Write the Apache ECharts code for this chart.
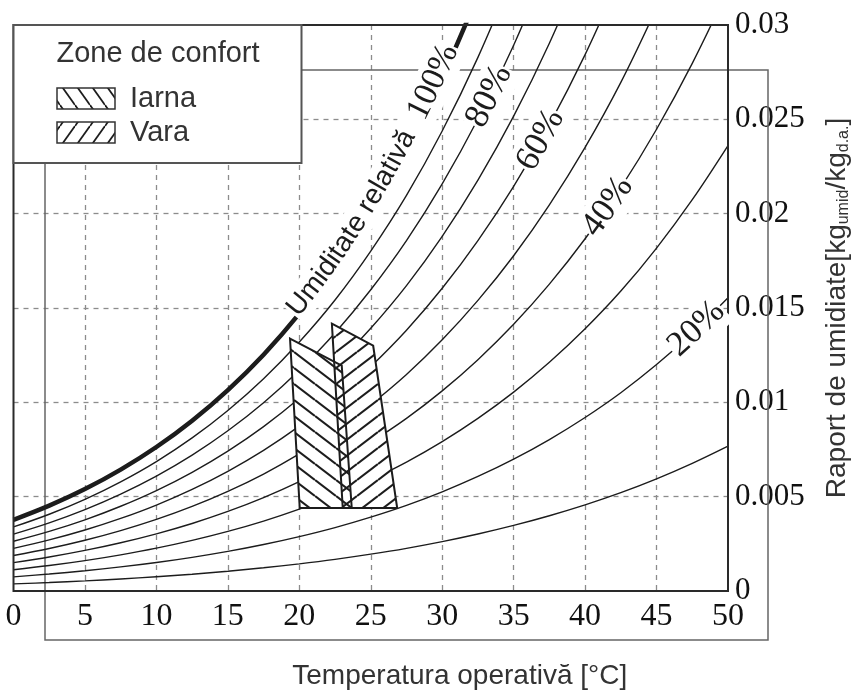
<!DOCTYPE html>
<html>
<head>
<meta charset="utf-8">
<script src="https://cdn.jsdelivr.net/npm/echarts@6/dist/echarts.min.js"></script>
<style>
html,body{margin:0;padding:0;background:#fff;}
#chart{width:860px;height:695px;}
</style>
</head>
<body>
<div id="chart"></div>
<script>
// ---------------- DATA ----------------
const temps = [0, 2.5, 5, 7.5, 10, 12.5, 15, 17.5, 20, 22.5, 25, 27.5, 30, 32.5, 35, 37.5, 40, 42.5, 45, 47.5, 50];

const rh100 = [0.003775,0.004524,0.005403,0.006435,0.007632,0.009028,0.010650,0.012525,0.014699,0.017188,0.020086,0.023387,0.027210,0.031588];
const rh90  = [0.003395,0.004068,0.004858,0.005786,0.006860,0.008114,0.009568,0.011250,0.013198,0.015427,0.018019,0.020970,0.024382,0.028285,0.032737];
const rh80  = [0.003016,0.003614,0.004315,0.005138,0.006091,0.007202,0.008491,0.009979,0.011704,0.013675,0.015966,0.018570,0.021579,0.025015,0.028930,0.033405];
const rh70  = [0.002637,0.003160,0.003772,0.004491,0.005323,0.006293,0.007417,0.008715,0.010217,0.011933,0.013926,0.016189,0.018800,0.021779,0.025167,0.029035,0.033423];
const rh60  = [0.002259,0.002707,0.003231,0.003846,0.004557,0.005386,0.006346,0.007455,0.008737,0.010200,0.011898,0.013824,0.016045,0.018575,0.021447,0.024722,0.028430,0.032632];
const rh50  = [0.001882,0.002254,0.002690,0.003201,0.003793,0.004482,0.005280,0.006200,0.007264,0.008477,0.009884,0.011478,0.013314,0.015403,0.017770,0.020467,0.023513,0.026957,0.030896];
const rh40  = [0.001505,0.001801,0.002150,0.002558,0.003031,0.003580,0.004217,0.004950,0.005798,0.006763,0.007882,0.009149,0.010606,0.012262,0.014136,0.016265,0.018669,0.021380,0.024475,0.027969,0.031885];
const rh30  = [0.001128,0.001350,0.001611,0.001917,0.002270,0.002681,0.003157,0.003705,0.004338,0.005059,0.005893,0.006836,0.007920,0.009151,0.010542,0.012121,0.013897,0.015898,0.018177,0.020743,0.023611];
const rh20  = [0.000751,0.000899,0.001073,0.001276,0.001511,0.001785,0.002101,0.002465,0.002885,0.003363,0.003916,0.004540,0.005258,0.006071,0.006989,0.008028,0.009197,0.010510,0.012001,0.013676,0.015544];
const rh10  = [0.000375,0.000449,0.000536,0.000638,0.000755,0.000891,0.001049,0.001230,0.001439,0.001677,0.001952,0.002262,0.002618,0.003021,0.003475,0.003989,0.004564,0.005211,0.005943,0.006764,0.007676];

// Comfort zones [temperature, humidity ratio]
const winterZone = [[19.35, 0.01338], [22.97, 0.01195], [23.67, 0.0044], [20.03, 0.0044]];
const summerZone = [[22.28, 0.01417], [25.17, 0.0130], [26.85, 0.0044], [23.04, 0.0044]];

const xTickLabels = ['0','5','10','15','20','25','30','35','40','45','50'];
const yTickLabels = ['0','0.005','0.01','0.015','0.02','0.025','0.03'];

const legendTitle = 'Zone de confort';
const legendWinter = 'Iarna';
const legendSummer = 'Vara';
const xTitle = 'Temperatura operativă [°C]';

// ---------------- STYLE / LAYOUT ----------------
const SANS = '"Liberation Sans", Arial, sans-serif';
const SERIF = '"Liberation Serif", "Times New Roman", serif';
const INK = '#1c1c1c';

const curves = [
  {name: '100%', values: rh100, width: 4.5},
  {name: '90%',  values: rh90,  width: 1.4},
  {name: '80%',  values: rh80,  width: 1.4},
  {name: '70%',  values: rh70,  width: 1.4},
  {name: '60%',  values: rh60,  width: 1.4},
  {name: '50%',  values: rh50,  width: 1.4},
  {name: '40%',  values: rh40,  width: 1.4},
  {name: '30%',  values: rh30,  width: 1.4},
  {name: '20%',  values: rh20,  width: 1.4},
  {name: '10%',  values: rh10,  width: 1.4}
];

const curveLabels = [
  {values: rh100, at: 19.85, anchor: 'start', offset: 6,
   parts: [{text: 'Umiditate relativă ', font: '28px ' + SANS}, {text: ' 100%', font: '34px ' + SERIF}]},
  {values: rh80, at: 33.3, anchor: 'center', offset: 0, parts: [{text: '80%', font: '35px ' + SERIF}]},
  {values: rh60, at: 36.9, anchor: 'center', offset: 0, parts: [{text: '60%', font: '35px ' + SERIF}]},
  {values: rh40, at: 41.6, anchor: 'center', offset: 0, parts: [{text: '40%', font: '35px ' + SERIF}]},
  {values: rh20, at: 47.8, anchor: 'center', offset: 0, parts: [{text: '20%', font: '35px ' + SERIF}]}
];

// hatch patterns
function makeHatch(down, w, h, lw) {
  const c = document.createElement('canvas');
  c.width = w; c.height = h;
  const ctx = c.getContext('2d');
  ctx.strokeStyle = INK;
  ctx.lineWidth = lw;
  for (let k = -1; k <= 1; k++) {
    ctx.beginPath();
    if (down) { ctx.moveTo(0, k * h); ctx.lineTo(w, (k + 1) * h); }
    else { ctx.moveTo(0, (k + 1) * h); ctx.lineTo(w, k * h); }
    ctx.stroke();
  }
  return c;
}
const hatchWinter = makeHatch(true, 21, 16, 2.1);
const hatchSummer = makeHatch(false, 21, 16, 2.1);
const hatchWinterLeg = makeHatch(true, 15, 21, 1.8);
const hatchSummerLeg = makeHatch(false, 15, 21, 1.8);

const measureCtx = document.createElement('canvas').getContext('2d');
function textWidth(str, font) { measureCtx.font = font; return measureCtx.measureText(str).width; }

function densify(pts) {
  const out = [];
  const n = pts.length;
  for (let i = 0; i < n - 1; i++) {
    const p0 = pts[Math.max(i - 1, 0)], p1 = pts[i], p2 = pts[i + 1], p3 = pts[Math.min(i + 2, n - 1)];
    const steps = 16;
    for (let s = 0; s < steps; s++) {
      const t = s / steps, t2 = t * t, t3 = t2 * t;
      const f = function (a, b, c, d) {
        return 0.5 * (2 * b + (-a + c) * t + (2 * a - 5 * b + 4 * c - d) * t2 + (-a + 3 * b - 3 * c + d) * t3);
      };
      out.push([f(p0[0], p1[0], p2[0], p3[0]), f(p0[1], p1[1], p2[1], p3[1])]);
    }
  }
  out.push(pts[n - 1]);
  return out;
}

function renderCurveLabel(params, api) {
  const spec = curveLabels[params.dataIndex];
  const pts = spec.values.map(function (v, i) { return api.coord([temps[i], v]); });
  const dense = densify(pts);
  const cum = [0];
  for (let i = 1; i < dense.length; i++) {
    cum.push(cum[i - 1] + Math.hypot(dense[i][0] - dense[i - 1][0], dense[i][1] - dense[i - 1][1]));
  }
  const ax = api.coord([spec.at, 0])[0];
  let s0 = 0;
  for (let i = 0; i < dense.length - 1; i++) {
    if (dense[i][0] <= ax && dense[i + 1][0] >= ax) {
      const f = (ax - dense[i][0]) / ((dense[i + 1][0] - dense[i][0]) || 1);
      s0 = cum[i] + f * (cum[i + 1] - cum[i]);
      break;
    }
  }
  function pointAt(s) {
    let j = 0;
    while (j < dense.length - 2 && cum[j + 1] < s) j++;
    const segLen = (cum[j + 1] - cum[j]) || 1;
    const f = (s - cum[j]) / segLen;
    const dx = dense[j + 1][0] - dense[j][0], dy = dense[j + 1][1] - dense[j][1];
    const L = Math.hypot(dx, dy) || 1;
    return {x: dense[j][0] + f * dx, y: dense[j][1] + f * dy, tx: dx / L, ty: dy / L};
  }
  const chars = [];
  spec.parts.forEach(function (p) {
    for (const ch of p.text) chars.push({ch: ch, font: p.font, w: textWidth(ch, p.font)});
  });
  const total = chars.reduce(function (a, c) { return a + c.w; }, 0);
  let s = spec.anchor === 'start' ? s0 : s0 - total / 2;
  const children = [];
  chars.forEach(function (c) {
    const pt = pointAt(s + c.w / 2);
    const nx = pt.ty, ny = -pt.tx;
    children.push({
      type: 'text',
      x: pt.x + nx * spec.offset,
      y: pt.y + ny * spec.offset,
      rotation: Math.atan2(-pt.ty, pt.tx),
      style: {
        text: c.ch, font: c.font, fill: INK,
        align: 'center', verticalAlign: 'middle',
        backgroundColor: '#fff', padding: [2, 1]
      }
    });
    s += c.w;
  });
  return {type: 'group', children: children};
}

function renderZones(params, api) {
  const zones = [{pts: winterZone, pat: hatchWinter}, {pts: summerZone, pat: hatchSummer}];
  const polys = zones.map(function (z) { return z.pts.map(function (p) { return api.coord(p); }); });
  const children = [];
  polys.forEach(function (p) {
    children.push({type: 'polygon', shape: {points: p}, style: {fill: '#fff', stroke: null}});
  });
  polys.forEach(function (p, i) {
    children.push({type: 'polygon', shape: {points: p}, style: {fill: {image: zones[i].pat, repeat: 'repeat'}, stroke: null}});
  });
  polys.forEach(function (p) {
    children.push({type: 'polygon', shape: {points: p}, style: {fill: 'none', stroke: INK, lineWidth: 2, lineJoin: 'miter'}});
  });
  return {type: 'group', children: children};
}

const chart = echarts.init(document.getElementById('chart'), null, {renderer: 'canvas'});

const series = curves.map(function (c) {
  return {
    type: 'line', name: c.name,
    data: c.values.map(function (v, i) { return [temps[i], v]; }),
    showSymbol: false, smooth: 0.35,
    lineStyle: {color: INK, width: c.width},
    silent: true, clip: true, z: 3
  };
});
series.push({
  type: 'custom', name: 'zones', renderItem: renderZones,
  data: [[0, 0]], silent: true, z: 4, clip: false
});
series.push({
  type: 'custom', name: 'labels', renderItem: renderCurveLabel,
  data: curveLabels.map(function (s) { return [s.at, 0]; }), silent: true, z: 6, clip: false
});

chart.setOption({
  animation: false,
  backgroundColor: '#fff',
  grid: {left: 13.5, top: 25, width: 721.5, height: 568.5, show: true, borderColor: '#2a2a2a', borderWidth: 2, z: 5},
  xAxis: {
    type: 'value', min: 0, max: 50, interval: 5,
    axisLine: {show: false}, axisTick: {show: false},
    splitLine: {show: true, showMinLine: false, showMaxLine: false,
      lineStyle: {color: '#8c8c8c', type: [5, 5], width: 1.3}},
    axisLabel: {
      fontFamily: SERIF, fontSize: 32, color: '#111', margin: 10,
      formatter: function (v) { return xTickLabels[Math.round(v / 5)]; }
    },
    name: xTitle, nameLocation: 'middle', nameGap: 71,
    nameTextStyle: {fontFamily: SANS, fontSize: 28, color: '#333', padding: [0, 0, 0, 178]}
  },
  yAxis: {
    type: 'value', position: 'right', min: 0, max: 0.03, interval: 0.005,
    axisLine: {show: false}, axisTick: {show: false},
    splitLine: {show: true, showMinLine: false, showMaxLine: false,
      lineStyle: {color: '#8c8c8c', type: [5, 5], width: 1.3}},
    axisLabel: {
      fontFamily: SERIF, fontSize: 31, color: '#111', margin: 7,
      formatter: function (v) { return yTickLabels[Math.round(v / 0.005)]; }
    },
    name: '{m|Raport de umidiate[kg}{s|umid}{m|/kg}{s|d.a.}{m|]}',
    nameLocation: 'middle', nameRotate: 90, nameGap: 94,
    nameTextStyle: {
      rich: {
        m: {fontFamily: SANS, fontSize: 28, color: '#333', lineHeight: 30, verticalAlign: 'middle'},
        s: {fontFamily: SANS, fontSize: 16, color: '#333', lineHeight: 12, verticalAlign: 'bottom'}
      }
    }
  },
  graphic: [
    {type: 'rect', z: 1, silent: true, shape: {x: 45, y: 70, width: 723, height: 570},
     style: {fill: 'none', stroke: '#666', lineWidth: 1.5}},
    {type: 'rect', z: 100, silent: true, shape: {x: 13.5, y: 25, width: 288, height: 138},
     style: {fill: '#fff', stroke: '#555', lineWidth: 2}},
    {type: 'text', z: 101, silent: true, x: 158, y: 54,
     style: {text: legendTitle, font: '29px ' + SANS, fill: '#333', align: 'center', verticalAlign: 'middle'}},
    {type: 'rect', z: 101, silent: true, shape: {x: 57, y: 88, width: 58, height: 21},
     style: {fill: {image: hatchWinterLeg, repeat: 'repeat'}, stroke: '#333', lineWidth: 1.5}},
    {type: 'text', z: 101, silent: true, x: 130, y: 99,
     style: {text: legendWinter, font: '29px ' + SANS, fill: '#333', align: 'left', verticalAlign: 'middle'}},
    {type: 'rect', z: 101, silent: true, shape: {x: 57, y: 122, width: 58, height: 21},
     style: {fill: {image: hatchSummerLeg, repeat: 'repeat'}, stroke: '#333', lineWidth: 1.5}},
    {type: 'text', z: 101, silent: true, x: 130, y: 133,
     style: {text: legendSummer, font: '29px ' + SANS, fill: '#333', align: 'left', verticalAlign: 'middle'}}
  ],
  series: series
});
</script>
</body>
</html>
